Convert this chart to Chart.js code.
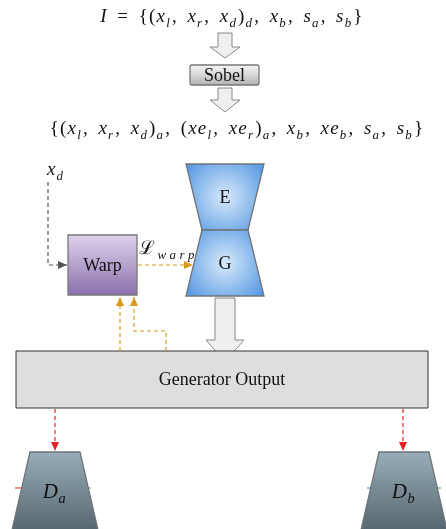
<!DOCTYPE html>
<html>
<head>
<meta charset="utf-8">
<script src="https://cdn.jsdelivr.net/npm/chart.js@4.4.1/dist/chart.umd.min.js"></script>
<style>
  html, body { margin: 0; padding: 0; background: #fff; }
  canvas { display: block; }
</style>
</head>
<body>
<canvas id="diagram" width="446" height="529"></canvas>
<script>
// formulas (math text, "_" makes a subscript)
const formulaTexts = [
  'I = {(x_l, x_r, x_d)_d, x_b, s_a, s_b}',
  '{(x_l, x_r, x_d)_a, (xe_l, xe_r)_a, x_b, xe_b, s_a, s_b}'
];
const formulaX = [232, 237];
const formulaY = [17, 129];

// boxes: label, left, top, right, bottom
const boxLabels = ['Sobel', 'Warp', 'Generator Output'];
const boxLeft   = [190, 68, 16];
const boxTop    = [65, 235, 351];
const boxRight  = [259, 137, 428];
const boxBottom = [85, 295, 408];

// trapezoids: label, centre x, top y, bottom y, top half width, bottom half width
const trapLabels = ['E', 'G', 'D_a', 'D_b'];
const trapCx     = [225, 225, 55, 404];
const trapTop    = [164, 230, 452, 452];
const trapBottom = [230, 296, 530, 530];
const trapTopW   = [39, 23, 25, 25];
const trapBotW   = [23, 39, 43, 43];

// hollow block arrows: centre x, top, head start, tip, shaft half width, head half width
const blockX     = [225, 225, 225];
const blockTop   = [33, 88, 298];
const blockHead  = [47, 100, 340];
const blockTip   = [58, 112, 362];
const blockShaft = [7, 7, 10];
const blockWing  = [15, 15, 19];

// dashed connectors
const linkXs = [
  [48, 48, 67],
  [138, 193],
  [120, 120],
  [166, 166, 134, 134],
  [55, 55],
  [403, 403]
];
const linkYs = [
  [182, 265, 265],
  [265, 265],
  [351, 297],
  [351, 331, 331, 297],
  [409, 451],
  [409, 451]
];
const linkColors = ['#555555', '#d99a1c', '#d99a1c', '#d99a1c', '#e52222', '#e52222'];

// free labels
const freeTexts = ['x_d', 'ℒ_{warp}'];
const freeX = [47, 139];
const freeY = [170, 249];

function drawMath(ctx, str, cx, cy, size, align, gap, space) {
  gap = gap || 0;
  const parts = [];
  for (let i = 0; i < str.length; i++) {
    const c = str[i];
    if (c === '_') {
      let sub = str[i + 1]; i++;
      if (sub === '{') { const j = str.indexOf('}', i); sub = str.slice(i + 1, j); i = j; }
      for (const s of sub) parts.push({ t: s, sub: true, it: /[a-z]/i.test(s) });
    } else if (c === ' ') {
      parts.push({ space: true });
    } else {
      parts.push({ t: c, sub: false, it: /[a-zA-Z]/.test(c) });
    }
  }
  const fontOf = p => (p.it ? 'italic ' : '') + (p.sub ? size * 0.68 : size) + 'px "Liberation Serif", "DejaVu Serif", serif';
  let total = 0;
  for (const p of parts) {
    if (p.space) { p.w = size * (space || 0.28); }
    else { ctx.font = fontOf(p); p.w = ctx.measureText(p.t).width + gap + (p.sub && p.it ? 1 : 0); }
    total += p.w;
  }
  let x = align === 'left' ? cx : cx - total / 2;
  ctx.textBaseline = 'middle';
  ctx.textAlign = 'left';
  ctx.fillStyle = '#111';
  for (const p of parts) {
    if (!p.space) {
      ctx.font = fontOf(p);
      ctx.fillText(p.t, x, p.sub ? cy + size * 0.36 : cy);
    }
    x += p.w;
  }
}

const diagramPlugin = {
  id: 'diagram',
  beforeDatasetsDraw(chart) {
    const ctx = chart.ctx;
    const X = v => chart.scales.x.getPixelForValue(v);
    const Y = v => chart.scales.y.getPixelForValue(v);
    ctx.save();

    // block arrows
    blockX.forEach((cx, i) => {
      ctx.beginPath();
      ctx.moveTo(X(cx - blockShaft[i]), Y(blockTop[i]));
      ctx.lineTo(X(cx + blockShaft[i]), Y(blockTop[i]));
      ctx.lineTo(X(cx + blockShaft[i]), Y(blockHead[i]));
      ctx.lineTo(X(cx + blockWing[i]), Y(blockHead[i]));
      ctx.lineTo(X(cx), Y(blockTip[i]));
      ctx.lineTo(X(cx - blockWing[i]), Y(blockHead[i]));
      ctx.lineTo(X(cx - blockShaft[i]), Y(blockHead[i]));
      ctx.closePath();
      ctx.fillStyle = '#efefef';
      ctx.fill();
      ctx.strokeStyle = '#888';
      ctx.lineWidth = 1;
      ctx.stroke();
    });

    // tiny side marks peeking out of the discriminators
    [[15, 24, '#e52222'], [86, 91, '#3fae3f'], [367, 373, '#2a7de1'], [436, 441, '#3fae3f']].forEach(m => {
      ctx.beginPath();
      ctx.moveTo(X(m[0]), Y(488));
      ctx.lineTo(X(m[1]), Y(488));
      ctx.strokeStyle = m[2];
      ctx.lineWidth = 1;
      ctx.stroke();
    });

    // trapezoids
    trapLabels.forEach((lab, i) => {
      const cx = trapCx[i];
      ctx.beginPath();
      ctx.moveTo(X(cx - trapTopW[i]), Y(trapTop[i]));
      ctx.lineTo(X(cx + trapTopW[i]), Y(trapTop[i]));
      ctx.lineTo(X(cx + trapBotW[i]), Y(trapBottom[i]));
      ctx.lineTo(X(cx - trapBotW[i]), Y(trapBottom[i]));
      ctx.closePath();
      let g;
      if (lab === 'E' || lab === 'G') {
        const my = (trapTop[i] + trapBottom[i]) / 2;
        g = ctx.createRadialGradient(X(cx), Y(my), 2, X(cx), Y(my), 46);
        g.addColorStop(0, '#d3e6f9');
        g.addColorStop(1, '#5c9ce4');
      } else {
        g = ctx.createLinearGradient(0, Y(trapTop[i]), 0, Y(trapBottom[i]));
        g.addColorStop(0, '#97adb7');
        g.addColorStop(1, '#58676f');
      }
      ctx.fillStyle = g;
      ctx.fill();
      ctx.strokeStyle = '#6f7378';
      ctx.lineWidth = 1.3;
      ctx.stroke();
    });

    // boxes
    boxLabels.forEach((lab, i) => {
      const x0 = X(boxLeft[i]), y0 = Y(boxTop[i]);
      const w = X(boxRight[i]) - x0, h = Y(boxBottom[i]) - y0;
      let fill, stroke;
      if (lab === 'Sobel') {
        fill = ctx.createLinearGradient(0, y0, 0, y0 + h);
        fill.addColorStop(0, '#f7f7f7');
        fill.addColorStop(1, '#b4b4b4');
        stroke = '#777';
      } else if (lab === 'Warp') {
        fill = ctx.createLinearGradient(0, y0, 0, y0 + h);
        fill.addColorStop(0, '#ddd3eb');
        fill.addColorStop(1, '#8b70ad');
        stroke = '#777';
      } else {
        fill = '#dedede';
        stroke = '#333';
      }
      ctx.beginPath();
      if (lab === 'Sobel') ctx.roundRect(x0, y0, w, h, 2); else ctx.rect(x0, y0, w, h);
      ctx.fillStyle = fill;
      ctx.fill();
      ctx.strokeStyle = stroke;
      ctx.lineWidth = lab === 'Generator Output' ? 1 : 1.3;
      ctx.stroke();
    });
    ctx.restore();
  },
  afterDatasetsDraw(chart) {
    const ctx = chart.ctx;
    const X = v => chart.scales.x.getPixelForValue(v);
    const Y = v => chart.scales.y.getPixelForValue(v);
    ctx.save();

    // arrow heads at link ends
    linkXs.forEach((xs, i) => {
      const ys = linkYs[i];
      const n = xs.length;
      const x1 = X(xs[n - 1]), y1 = Y(ys[n - 1]);
      const x0 = X(xs[n - 2]), y0 = Y(ys[n - 2]);
      const a = Math.atan2(y1 - y0, x1 - x0);
      const L = 9, W = 4;
      ctx.beginPath();
      ctx.moveTo(x1, y1);
      ctx.lineTo(x1 - L * Math.cos(a) + W * Math.sin(a), y1 - L * Math.sin(a) - W * Math.cos(a));
      ctx.lineTo(x1 - L * Math.cos(a) - W * Math.sin(a), y1 - L * Math.sin(a) + W * Math.cos(a));
      ctx.closePath();
      ctx.fillStyle = linkColors[i];
      ctx.fill();
    });

    formulaTexts.forEach((t, i) => drawMath(ctx, t, X(formulaX[i]), Y(formulaY[i]), 19, 'center', 1.2, 0.5));

    ctx.fillStyle = '#111';
    ctx.textAlign = 'center';
    ctx.textBaseline = 'middle';
    boxLabels.forEach((lab, i) => {
      ctx.fillStyle = '#111';
      ctx.textAlign = 'center';
      ctx.font = '18px "Liberation Serif", serif';
      ctx.fillText(lab, X((boxLeft[i] + boxRight[i]) / 2), Y((boxTop[i] + boxBottom[i]) / 2 + 1));
    });
    trapLabels.forEach((lab, i) => {
      const my = (trapTop[i] + trapBottom[i]) / 2;
      if (lab.includes('_')) {
        drawMath(ctx, lab, X(trapCx[i]), Y(492), 21, 'center', 0.5);
      } else {
        ctx.fillStyle = '#111';
        ctx.textAlign = 'center';
        ctx.font = '18px "Liberation Serif", serif';
        ctx.fillText(lab, X(trapCx[i]), Y(my + 1));
      }
    });
    drawMath(ctx, freeTexts[0], X(freeX[0]), Y(freeY[0]), 19, 'left', 1);
    drawMath(ctx, freeTexts[1], X(freeX[1]), Y(freeY[1]), 19, 'left', 2.5);
    ctx.restore();
  }
};

new Chart(document.getElementById('diagram'), {
  type: 'scatter',
  data: {
    datasets: linkXs.map((xs, i) => ({
      data: xs.map((x, k) => ({ x: x, y: linkYs[i][k] })),
      showLine: true,
      borderColor: linkColors[i],
      borderWidth: 1.2,
      borderDash: [4, 3],
      pointRadius: 0,
      tension: 0,
      fill: false
    }))
  },
  options: {
    responsive: false,
    animation: false,
    events: [],
    layout: { padding: 0 },
    plugins: { legend: { display: false }, tooltip: { enabled: false } },
    scales: {
      x: { type: 'linear', min: 0, max: 446, display: false },
      y: { type: 'linear', min: 0, max: 529, reverse: true, display: false }
    }
  },
  plugins: [diagramPlugin]
});
</script>
</body>
</html>
